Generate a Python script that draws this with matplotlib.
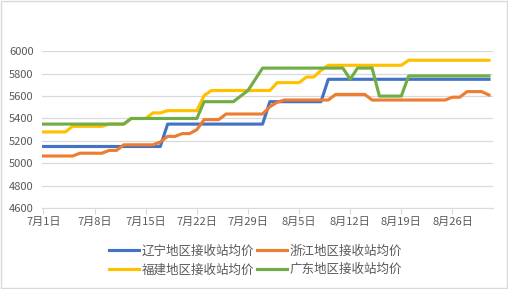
import matplotlib.pyplot as plt
from matplotlib.patches import Rectangle

plt.rcParams['font.family'] = ['Noto Sans CJK SC', 'DejaVu Sans']

# daily values, Jul 1 .. Aug 31 (62 days)
liaoning = [5150] * 17 + [5350] * 14 + [5550] * 8 + [5750] * 23
zhejiang = ([5065] * 5 + [5090] * 4 + [5115] * 2 + [5165] * 5 + [5190] + [5240] * 2
            + [5265] * 2 + [5300] + [5390] * 3 + [5440] * 6 + [5505] + [5545]
            + [5565] * 7 + [5615] * 5 + [5565] * 11 + [5590] * 2 + [5640] * 3 + [5610])
fujian = ([5280] * 4 + [5330] * 5 + [5350] * 3 + [5400] * 3 + [5450] * 2 + [5470] * 5
          + [5605] + [5650] * 9 + [5720] * 4 + [5770] * 2 + [5830] + [5875] * 11 + [5920] * 12)
guangdong = ([5350] * 12 + [5400] * 10 + [5550] * 5 + [5600] + [5650] + [5750]
             + [5850] * 12 + [5750] + [5850] * 3 + [5600] * 4 + [5780] * 12)

names = ['辽宁地区接收站均价', '浙江地区接收站均价', '福建地区接收站均价', '广东地区接收站均价']
colors = ['#4472C4', '#ED7D31', '#FFC000', '#70AD47']
tick_days = [0, 7, 14, 21, 28, 35, 42, 49, 56]
tick_labels = ['7月1日', '7月8日', '7月15日', '7月22日', '7月29日', '8月5日', '8月12日', '8月19日', '8月26日']
yticks = [4600, 4800, 5000, 5200, 5400, 5600, 5800, 6000]

fig = plt.figure(figsize=(5.08, 2.89), dpi=100)
ax = fig.add_axes([0.0827, 0.280, 0.887, 0.5425])

days = list(range(len(liaoning)))
for vals, name, c in zip([liaoning, zhejiang, fujian, guangdong], names, colors):
    ax.plot(days, vals, color=c, lw=2.25, label=name, solid_joinstyle='round')

ax.set_xlim(-0.2, 61.5)
ax.set_ylim(4600, 6000)
ax.set_yticks(yticks)
ax.set_xticks(tick_days)
ax.set_xticklabels(tick_labels)
ax.grid(axis='y', color='#d9d9d9', lw=0.9)
ax.set_axisbelow(True)
for s in ['top', 'right', 'left']:
    ax.spines[s].set_visible(False)
ax.spines['bottom'].set_color('#d9d9d9')
ax.tick_params(axis='y', length=0, pad=6, labelsize=8, labelcolor='#595959')
ax.tick_params(axis='x', length=4, color='#d9d9d9', pad=2, labelsize=8, labelcolor='#595959')

h, l = ax.get_legend_handles_labels()
order = [0, 2, 1, 3]
fig.legend([h[i] for i in order], [l[i] for i in order], ncol=2, loc='center',
           bbox_to_anchor=(0.503, 0.0986), frameon=False, fontsize=9,
           handlelength=2.4, handletextpad=0.25, columnspacing=0.2,
           labelspacing=0.45, labelcolor='#595959')

fig.add_artist(Rectangle((0.001, 0.002), 0.997, 0.995, transform=fig.transFigure,
                         fill=False, edgecolor='#d9d9d9', lw=1))

fig.savefig('out.png', dpi=100)
